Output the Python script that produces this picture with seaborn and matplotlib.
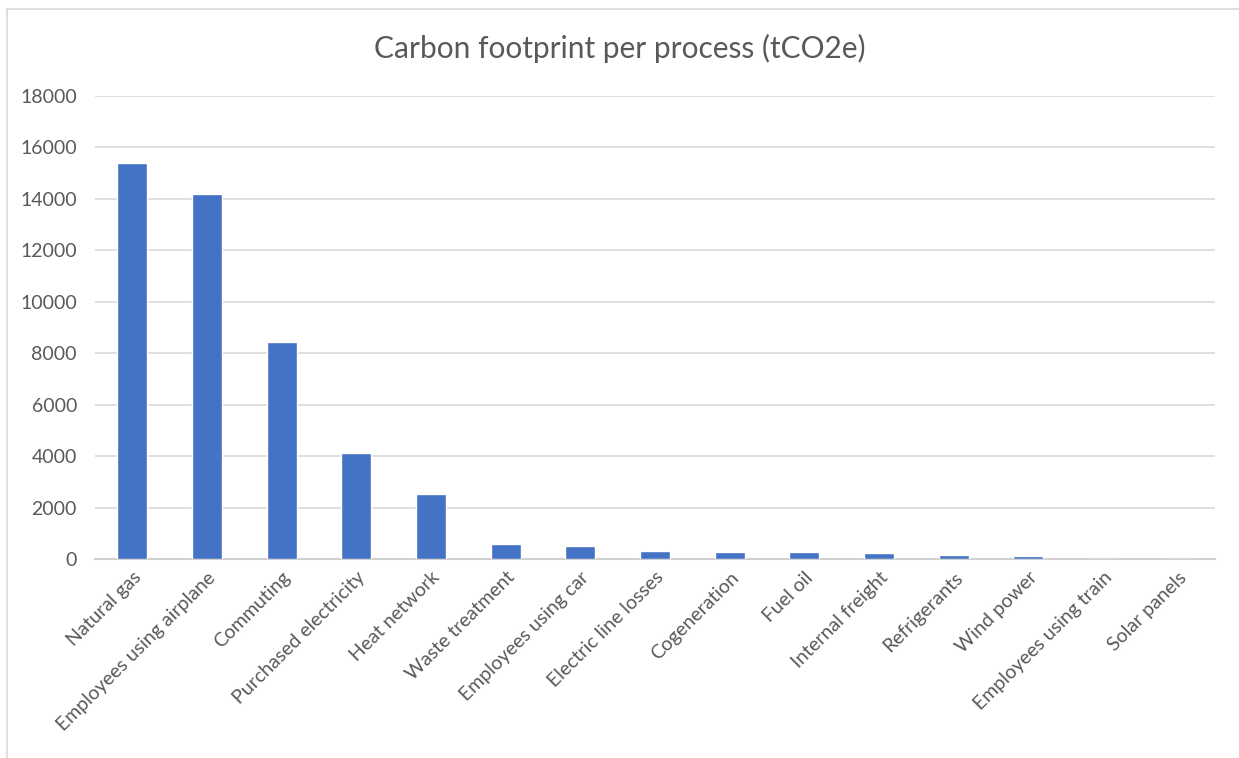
import matplotlib
matplotlib.use("Agg")
from matplotlib import pyplot as plt
from matplotlib.lines import Line2D
import seaborn as sns
import pandas as pd

processes = ["Natural gas", "Employees using airplane", "Commuting", "Purchased electricity",
             "Heat network", "Waste treatment", "Employees using car", "Electric line losses",
             "Cogeneration", "Fuel oil", "Internal freight", "Refrigerants", "Wind power",
             "Employees using train", "Solar panels"]
footprint = [15400, 14170, 8420, 4110, 2540, 600, 510, 330, 280, 280, 230, 150, 100, 10, 5]
y_ticks = [0, 2000, 4000, 6000, 8000, 10000, 12000, 14000, 16000, 18000]

df = pd.DataFrame({"process": processes, "tCO2e": footprint})

sns.set_style("white")
plt.rcParams['font.family'] = ['Lato', 'DejaVu Sans']
text_grey = '#595959'

fig = plt.figure(figsize=(12.39, 7.58), dpi=100)
ax = fig.add_axes([0.0767, 0.2625, 0.904, 0.611])
sns.barplot(data=df, x="process", y="tCO2e", color='#4472C4', width=0.4,
            saturation=1, ax=ax, zorder=3)

ax.set_ylim(0, 18000)
ax.set_yticks(y_ticks)
ax.set_xlim(-0.5, len(processes) - 0.5)
ax.yaxis.grid(True, color='#D9D9D9', linewidth=1.2, zorder=0)
ax.set_axisbelow(True)
for s in ['top', 'right', 'left']:
    ax.spines[s].set_visible(False)
ax.spines['bottom'].set_color('#D0D0D0')
ax.spines['bottom'].set_linewidth(1.5)
ax.tick_params(axis='both', length=0, colors=text_grey, labelsize=14)
ax.tick_params(axis='y', pad=13)
ax.tick_params(axis='x', pad=7)
plt.setp(ax.get_xticklabels(), rotation=45, ha='right', rotation_mode='anchor')
ax.set_xlabel('')
ax.set_ylabel('')

fig.text(0.5, 0.936, 'Carbon footprint per process (tCO2e)', ha='center', va='center',
         fontsize=21.5, color=text_grey)

# chart border (top and left edges visible)
fig.lines.append(Line2D([0.0057, 0.0057], [0, 0.988], transform=fig.transFigure,
                        color='#D9D9D9', linewidth=1.2))
fig.lines.append(Line2D([0.0057, 1], [0.988, 0.988], transform=fig.transFigure,
                        color='#D9D9D9', linewidth=1.2))

fig.savefig('out.png', dpi=100)
plt.close(fig)
